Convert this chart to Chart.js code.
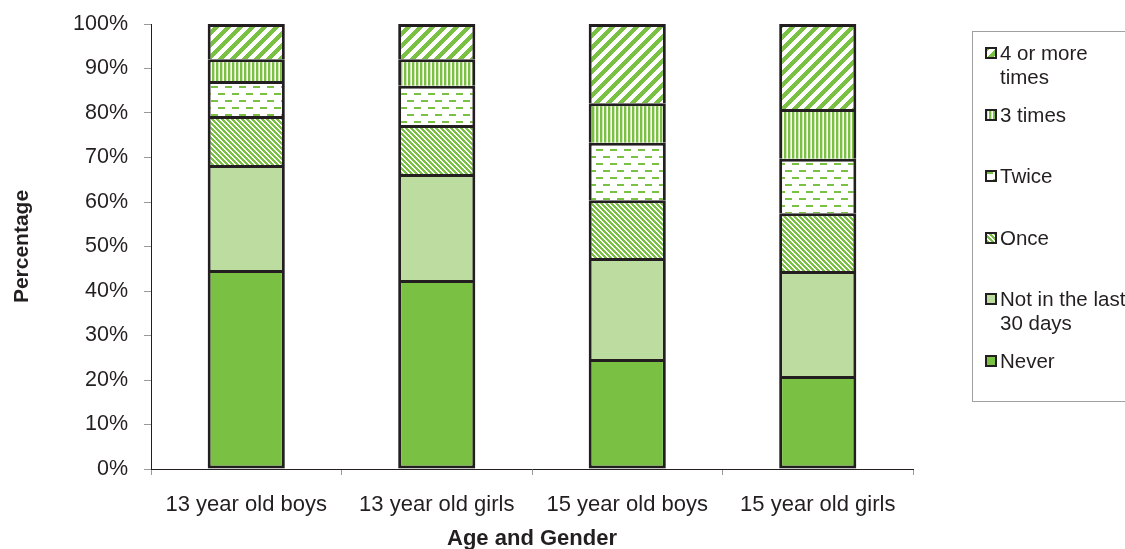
<!DOCTYPE html>
<html>
<head>
<meta charset="utf-8">
<script src="https://cdn.jsdelivr.net/npm/chart.js@4"></script>
<style>
  html, body { margin: 0; padding: 0; background: #fff; }
  #wrap { position: relative; width: 1125px; height: 549px; overflow: hidden; }
  #legend {
    position: absolute; left: 972px; top: 31px; width: 160px; height: 371px;
    border: 1px solid #a0a0a0; box-sizing: border-box; padding: 9px 0 0 12px;
    font-family: 'Liberation Sans', Arial, sans-serif; font-size: 20.5px; color: #231F20;
  }
  .item { display: flex; align-items: flex-start; height: 61.6px; line-height: 24px; }
  .item canvas { margin-top: 6px; margin-right: 3px; flex: none; }
</style>
</head>
<body>
<div id="wrap">
  <canvas id="chart" width="1125" height="549"></canvas>
  <div id="legend"></div>
</div>
<script>
(() => {
  const categories = ['13 year old boys', '13 year old girls', '15 year old boys', '15 year old girls'];

  // percentages, bottom to top
  const never      = [44.7, 42.5, 24.7, 20.9];
  const notRecent  = [23.6, 23.8, 22.7, 23.6];
  const once       = [11.0, 11.0, 13.0, 13.0];
  const twice      = [7.9, 8.8, 12.9, 12.2];
  const threeTimes = [4.9, 6.0, 8.9, 11.2];
  const fourPlus   = [7.9, 7.9, 17.8, 19.1];

  const yTicks = [0, 10, 20, 30, 40, 50, 60, 70, 80, 90, 100];

  const GREEN = '#7AC143';
  const LIGHT = '#BDDCA0';
  const INK = '#231F20';
  const FONT = "'Liberation Sans', Arial, sans-serif";

  const el = document.getElementById('chart');
  const ctx = el.getContext('2d');

  function makePattern(w, h, draw) {
    const c = document.createElement('canvas');
    c.width = w; c.height = h;
    const g = c.getContext('2d');
    draw(g, w, h);
    return ctx.createPattern(c, 'repeat');
  }

  // pixel stripes so the tile repeats without seams
  function stripes(size, on, dir, bg, fg) {
    return makePattern(size, size, (g, w, h) => {
      g.fillStyle = bg; g.fillRect(0, 0, w, h);
      g.fillStyle = fg;
      for (let y = 0; y < h; y++) {
        for (let x = 0; x < w; x++) {
          const k = ((dir > 0 ? x + y : x - y) % size + size) % size;
          if (k < on) g.fillRect(x, y, 1, 1);
        }
      }
    });
  }

  const wideDiag = stripes(12, 6, 1, '#fff', GREEN);   // "/" wide
  const denseDiag = stripes(5, 2, -1, GREEN, '#fff');  // "\" dense

  // vertical stripes
  const vertical = makePattern(4, 4, (g, w, h) => {
    g.fillStyle = GREEN; g.fillRect(0, 0, w, h);
    g.fillStyle = '#cfe6b8'; g.fillRect(2, 0, 1, h);
    g.fillStyle = '#fff'; g.fillRect(3, 0, 1, h);
  });

  // staggered horizontal dashes
  const dashes = makePattern(14, 14, (g, w, h) => {
    g.fillStyle = '#fff'; g.fillRect(0, 0, w, h);
    g.fillStyle = GREEN;
    g.fillRect(1, 2, 7, 2);
    g.fillRect(8, 9, 6, 2);
    g.fillRect(0, 9, 1, 2);
  });

  const series = [
    { label: 'Never', data: never, fill: GREEN },
    { label: 'Not in the last 30 days', data: notRecent, fill: LIGHT },
    { label: 'Once', data: once, fill: denseDiag },
    { label: 'Twice', data: twice, fill: dashes },
    { label: '3 times', data: threeTimes, fill: vertical },
    { label: '4 or more times', data: fourPlus, fill: wideDiag },
  ];

  const datasets = series.map((s, i) => ({
    label: s.label,
    data: s.data,
    backgroundColor: s.fill,
    borderColor: INK,
    borderWidth: { top: 3, left: 3, right: 3, bottom: i === 0 ? 3 : 0 },
    borderSkipped: false,
    barPercentage: 0.405,
    categoryPercentage: 1,
  }));

  new Chart(ctx, {
    type: 'bar',
    data: { labels: categories, datasets },
    options: {
      responsive: false,
      animation: false,
      layout: { padding: { top: 24, right: 212, left: 0, bottom: 0 } },
      plugins: { legend: { display: false }, tooltip: { enabled: false } },
      scales: {
        x: {
          stacked: true,
          grid: { offset: true, drawOnChartArea: false, tickLength: 6, color: '#9a9a9a' },
          border: { color: INK, width: 1 },
          ticks: { color: INK, font: { family: FONT, size: 22 }, padding: 17, maxRotation: 0 },
          title: {
            display: true, text: 'Age and Gender', color: INK,
            font: { family: FONT, size: 22, weight: 'bold' }, padding: { top: 4, bottom: -3 }
          },
          afterFit: s => { s.height = 80; s.paddingLeft = 0; s.paddingRight = 0; },
        },
        y: {
          stacked: true,
          min: 0, max: 100,
          afterBuildTicks: s => { s.ticks = yTicks.map(v => ({ value: v })); },
          grid: { drawOnChartArea: false, tickLength: 7, color: '#9a9a9a' },
          border: { color: INK, width: 1 },
          ticks: { color: INK, font: { family: FONT, size: 21.5 }, padding: 16, callback: v => v + '%' },
          title: {
            display: true, text: 'Percentage', color: INK,
            font: { family: FONT, size: 21, weight: 'bold' }, padding: { top: 10, bottom: 0 }
          },
          afterFit: s => { s.width = 151; s.paddingTop = 0; s.paddingBottom = 0; },
        },
      },
    },
  });

  // legend, top to bottom in reverse stack order
  const legendLines = {
    '4 or more times': ['4 or more', 'times'],
    'Not in the last 30 days': ['Not in the last', '30 days'],
  };
  const legend = document.getElementById('legend');
  series.slice().reverse().forEach(s => {
    const item = document.createElement('div');
    item.className = 'item';
    const sw = document.createElement('canvas');
    sw.width = 12; sw.height = 12;
    const g = sw.getContext('2d');
    g.fillStyle = s.fill; g.fillRect(0, 0, 12, 12);
    g.strokeStyle = INK; g.lineWidth = 2; g.strokeRect(1, 1, 10, 10);
    const txt = document.createElement('div');
    const lines = legendLines[s.label] || [s.label];
    lines.forEach(l => {
      const d = document.createElement('div');
      d.textContent = l;
      txt.appendChild(d);
    });
    item.appendChild(sw);
    item.appendChild(txt);
    legend.appendChild(item);
  });
})();
</script>
</body>
</html>
